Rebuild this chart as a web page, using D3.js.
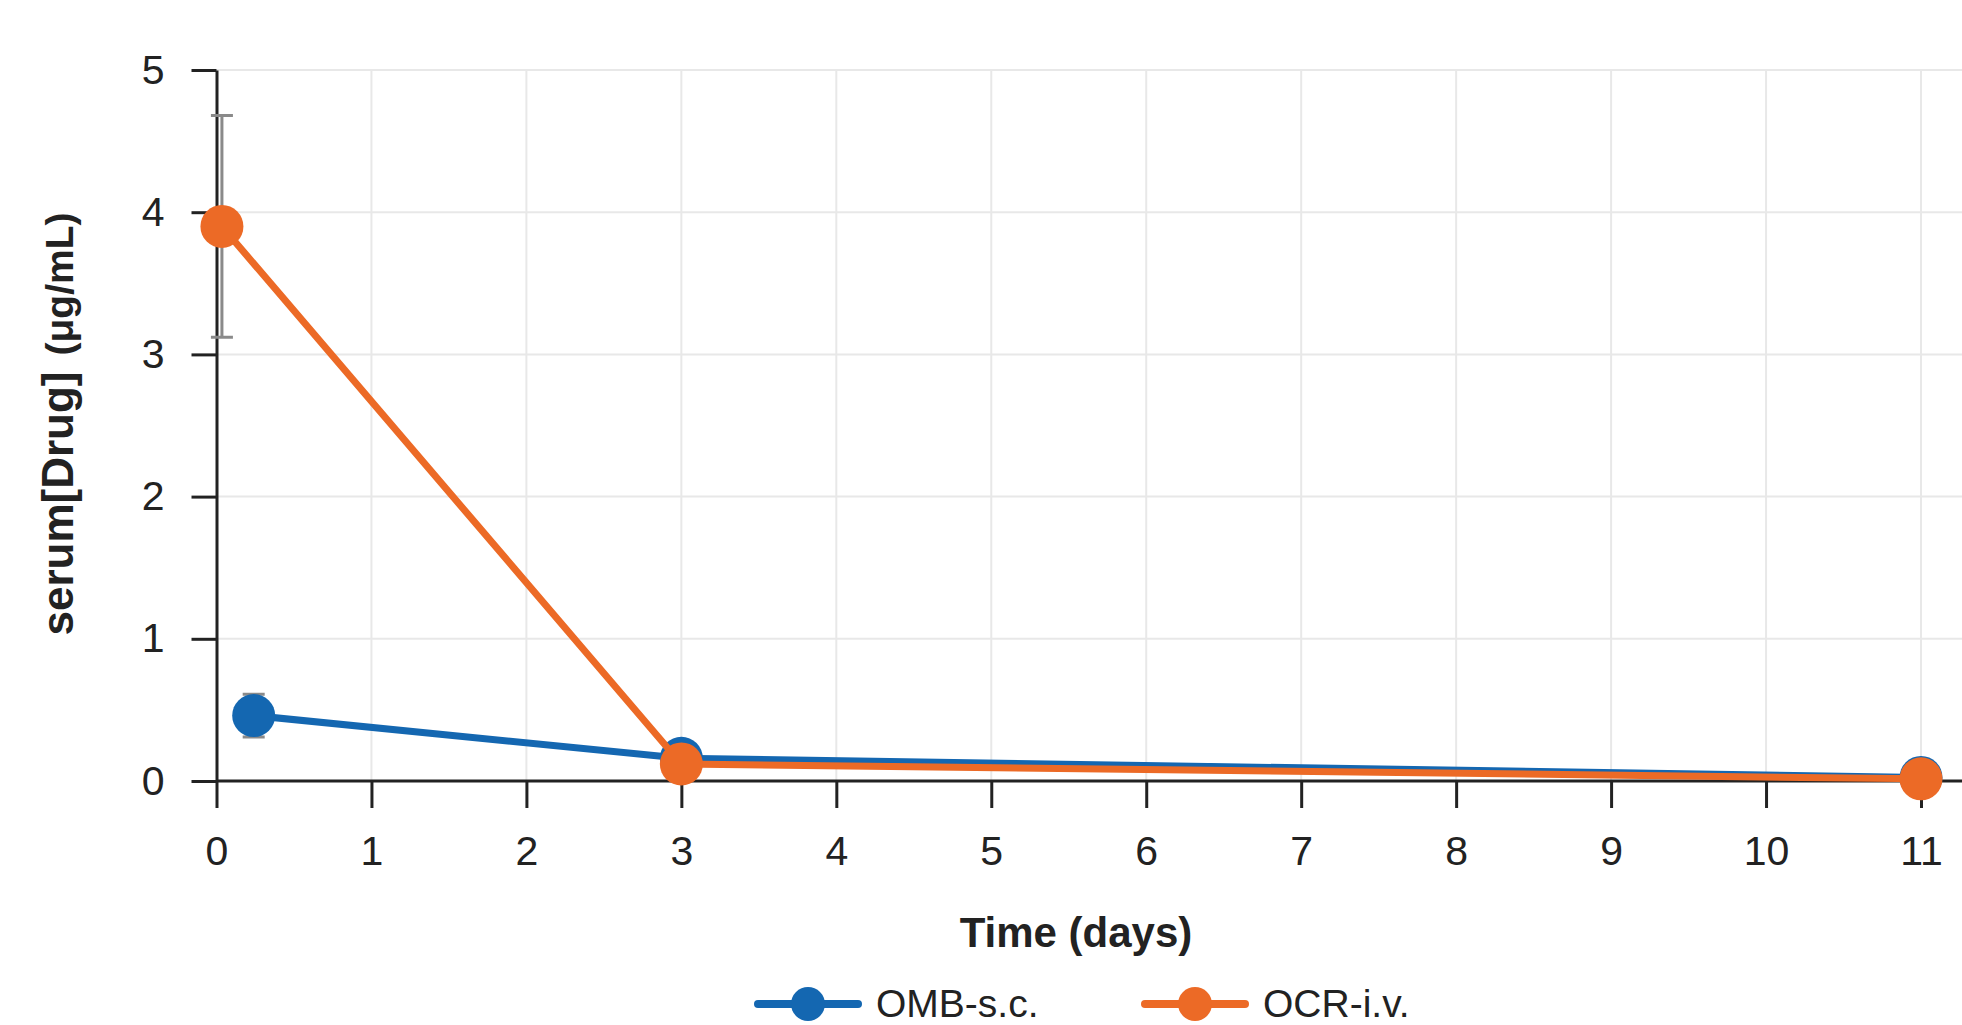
<!DOCTYPE html>
<html lang="en">
<head>
  <meta charset="UTF-8" />
  <title>serum[Drug] over time</title>
  <script src="https://d3js.org/d3.v7.min.js"></script>
  <style>
    body { margin: 0; background: #fff; }
    svg { display: block; font-family: "Liberation Sans", Arial, sans-serif; }
    .grid line { stroke: #e8e8e8; stroke-width: 2; }
    .axis path, .axis line { stroke: #222; stroke-width: 3; }
    .axis text { font-size: 41px; fill: #222; }
  </style>
</head>
<body>
  <svg width="1962" height="1025"></svg>
  <script>
    // data
    const xTicks = [0, 1, 2, 3, 4, 5, 6, 7, 8, 9, 10, 11];
    const yTicks = [0, 1, 2, 3, 4, 5];

    const ombDays = [0.24, 3, 11];
    const ombConc = [0.46, 0.16, 0.025];
    const ombErr  = [0.15, 0, 0];

    const ocrDays = [0.035, 3, 11];
    const ocrConc = [3.9, 0.12, 0.015];
    const ocrLow  = [3.12, null, null];
    const ocrHigh = [4.68, null, null];

    const series = [
      { name: "OMB-s.c.", color: "#1467b1",
        pts: ombDays.map((d, i) => ({ x: d, y: ombConc[i],
          lo: ombErr[i] ? ombConc[i] - ombErr[i] : null,
          hi: ombErr[i] ? ombConc[i] + ombErr[i] : null })) },
      { name: "OCR-i.v.", color: "#ec6a26",
        pts: ocrDays.map((d, i) => ({ x: d, y: ocrConc[i], lo: ocrLow[i], hi: ocrHigh[i] })) }
    ];

    const svg = d3.select("svg");
    const x = d3.scaleLinear().domain([0, 11]).range([216.5, 1921]);
    const y = d3.scaleLinear().domain([0, 5]).range([781, 70]);

    // grid
    const grid = svg.append("g").attr("class", "grid");
    grid.selectAll(".gx").data(xTicks.slice(1)).join("line")
      .attr("x1", d => x(d)).attr("x2", d => x(d))
      .attr("y1", y(0)).attr("y2", y(5));
    grid.selectAll(".gy").data(yTicks.slice(1)).join("line")
      .attr("x1", x(0)).attr("x2", 1962)
      .attr("y1", d => y(d)).attr("y2", d => y(d));

    // axes
    const xAxis = svg.append("g").attr("class", "axis")
      .attr("transform", `translate(0,${y(0)})`)
      .call(d3.axisBottom(x).tickValues(xTicks).tickSize(27).tickSizeOuter(0).tickPadding(28));
    xAxis.select(".domain").attr("d", `M${x(0)},0H1962`);

    svg.append("g").attr("class", "axis")
      .attr("transform", `translate(${x(0)},0)`)
      .call(d3.axisLeft(y).tickValues(yTicks).tickFormat(d3.format("d"))
        .tickSize(25).tickSizeOuter(0).tickPadding(27));
    svg.selectAll(".axis text").attr("font-family", null);

    // titles
    svg.append("text")
      .attr("x", 1076).attr("y", 947)
      .attr("text-anchor", "middle")
      .attr("font-size", 42).attr("font-weight", "bold").attr("fill", "#222")
      .text("Time (days)");

    const yt = svg.append("text")
      .attr("transform", "translate(73,424) rotate(-90)")
      .attr("text-anchor", "middle")
      .attr("font-weight", "bold").attr("fill", "#222");
    yt.append("tspan").attr("font-size", 44).text("serum[Drug]");
    yt.append("tspan").attr("font-size", 39).attr("dx", 16).text("(μg/mL)");

    // lines, error bars, markers
    const line = d3.line().x(d => x(d.x)).y(d => y(d.y));
    series.forEach(s => {
      const g = svg.append("g");
      g.append("path").datum(s.pts)
        .attr("d", line).attr("fill", "none")
        .attr("stroke", s.color).attr("stroke-width", 7);
      const eb = s.pts.filter(p => p.lo != null);
      g.selectAll(".eb").data(eb).join("path")
        .attr("d", p => `M${x(p.x)},${y(p.lo)}V${y(p.hi)}M${x(p.x) - 11},${y(p.lo)}h22M${x(p.x) - 11},${y(p.hi)}h22`)
        .attr("stroke", "#8a8a8a").attr("stroke-width", 3).attr("fill", "none");
      g.selectAll("circle").data(s.pts).join("circle")
        .attr("cx", p => x(p.x)).attr("cy", p => y(p.y))
        .attr("r", 21.5).attr("fill", s.color);
    });

    // legend
    const legX = [758, 1145];
    const leg = svg.selectAll(".leg").data(series).join("g")
      .attr("transform", (d, i) => `translate(${legX[i]},1004)`);
    leg.append("line").attr("x1", 0).attr("x2", 100)
      .attr("stroke", d => d.color).attr("stroke-width", 8).attr("stroke-linecap", "round");
    leg.append("circle").attr("cx", 50).attr("r", 17).attr("fill", d => d.color);
    leg.append("text").attr("x", 118).attr("y", 13)
      .attr("font-size", 39).attr("fill", "#222")
      .text(d => d.name);
  </script>
</body>
</html>
